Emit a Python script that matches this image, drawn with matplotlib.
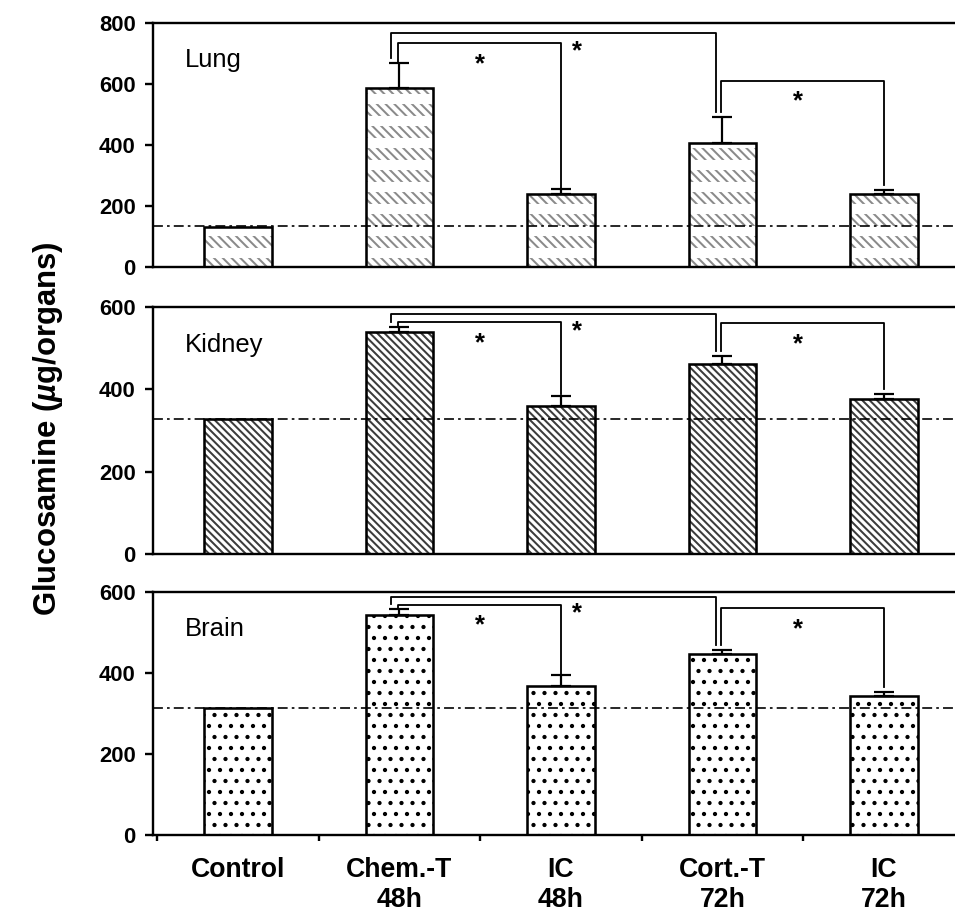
import matplotlib.pyplot as plt
import numpy as np

plt.rcParams['font.family'] = ['Liberation Sans', 'DejaVu Sans']
plt.rcParams['mathtext.fontset'] = 'custom'
plt.rcParams['mathtext.it'] = 'Liberation Sans:italic:bold'
plt.rcParams['mathtext.rm'] = 'Liberation Sans:bold'
plt.rcParams['hatch.linewidth'] = 1.1

groups = ['Control', 'Chem.-T\n48h', 'IC\n48h', 'Cort.-T\n72h', 'IC\n72h']

lung = [131, 587, 239, 407, 239]
lung_err = [0, 82, 16, 85, 13]
lung_ctrl = 134
lung_br = [767, 734, 610]   # Chem-Cort, Chem-IC48, Cort-IC72

kidney = [328, 539, 359, 461, 376]
kidney_err = [0, 12, 25, 20, 13]
kidney_ctrl = 329
kidney_br = [583, 563, 561]

brain = [314, 543, 368, 447, 343]
brain_err = [0, 15, 27, 10, 10]
brain_ctrl = 313
brain_br = [588, 568, 560]

DPI = 132
W = 0.42


def panel(ax, vals, errs, ctrl, br, ymax, name, kind):
    x = np.arange(len(groups))
    vals = np.array(vals)
    errs = np.array(errs)

    if kind == 'lung':
        ax.bar(x, vals, W, color='white', edgecolor='#8a8a8a', hatch='\\' * 5, linewidth=0, zorder=1)
        gaps = ax.bar(x, vals, W, color='none', edgecolor='white', hatch='-', linewidth=0, zorder=1.5)
        for p in gaps:
            if hasattr(p, 'set_hatch_linewidth'):
                p.set_hatch_linewidth(5.5)
    elif kind == 'kidney':
        ax.bar(x, vals, W, color='white', edgecolor='#3c3c3c', hatch='\\' * 6, linewidth=0, zorder=1)
    else:
        ax.bar(x, vals, W, color='white', edgecolor='black', hatch='..', linewidth=0, zorder=1)
    ax.bar(x, vals, W, fill=False, edgecolor='black', linewidth=1.4, zorder=2)

    ax.axhline(ctrl, color='black', lw=0.9, ls=(0, (6, 2.5, 1.6, 2.5)), zorder=3)

    ax.errorbar(x[1:], vals[1:], yerr=[np.zeros(4), errs[1:]], fmt='none',
                ecolor='black', elinewidth=1.2, capsize=5.5, capthick=1.2, zorder=4)

    cap = vals + errs
    gap = 0.02 * ymax
    lw = 1.0
    # outer bracket Chem-T 48h -> Cort-T 72h
    ax.plot([1 - 0.05, 1 - 0.05, 3 - 0.04, 3 - 0.04],
            [cap[1] + gap, br[0], br[0], cap[3] + gap], color='black', lw=lw, zorder=4)
    # inner bracket Chem-T 48h -> IC 48h
    ax.plot([1 - 0.01, 1 - 0.01, 2, 2],
            [cap[1], br[1], br[1], cap[2] + gap * 0.3], color='black', lw=lw, zorder=4)
    # Cort-T 72h -> IC 72h
    ax.plot([3 - 0.01, 3 - 0.01, 4, 4],
            [cap[3] + gap, br[2], br[2], cap[4] + gap], color='black', lw=lw, zorder=4)

    star = dict(ha='center', va='center', fontsize=14, fontweight='bold')
    ax.text(1.5, br[1] - 0.085 * ymax, '*', **star)
    ax.text(2.1, br[1] - 0.035 * ymax, '*', **star)
    ax.text(3.47, br[2] - 0.085 * ymax, '*', **star)

    ax.text(0.04, 0.82, name, transform=ax.transAxes, fontsize=14, ha='left', va='baseline')

    ax.set_xlim(-0.526, 4.44)
    ax.set_ylim(0, ymax)
    ticks = np.arange(0, ymax + 1, 200)
    ax.set_yticks(ticks, labels=[str(t) for t in ticks], fontsize=12, fontweight='bold')
    ax.tick_params(axis='y', length=4.4, width=1.3, pad=5)
    for s in ['left', 'bottom', 'top']:
        ax.spines[s].set_linewidth(1.3)
    ax.spines['right'].set_visible(False)


fig = plt.figure(figsize=(955 / DPI, 912 / DPI), dpi=DPI)
ax1 = fig.add_axes([0.1602, 0.7072, 0.8398, 0.2675])
ax2 = fig.add_axes([0.1602, 0.3925, 0.8398, 0.2708])
ax3 = fig.add_axes([0.1602, 0.0844, 0.8398, 0.2664])

panel(ax1, lung, lung_err, lung_ctrl, lung_br, 800, 'Lung', 'lung')
panel(ax2, kidney, kidney_err, kidney_ctrl, kidney_br, 600, 'Kidney', 'kidney')
panel(ax3, brain, brain_err, brain_ctrl, brain_br, 600, 'Brain', 'brain')

for ax in [ax1, ax2]:
    ax.tick_params(axis='x', which='both', bottom=False, labelbottom=False)

pos = np.arange(len(groups))
ax3.set_xticks(pos - 0.5)
ax3.set_xticklabels([])
ax3.set_xticks(pos, minor=True)
ax3.set_xticklabels(groups, minor=True, fontsize=14.5, fontweight='bold', linespacing=1.22)
ax3.tick_params(axis='x', which='major', length=3, width=1.3)
ax3.tick_params(axis='x', which='minor', length=0, pad=12)

fig.text(0.05, 0.53, 'Glucosamine ($\\mathit{µ}$g/organs)', rotation=90,
         ha='center', va='center', fontsize=17, fontweight='bold')

fig.savefig('out.png', dpi=DPI)
